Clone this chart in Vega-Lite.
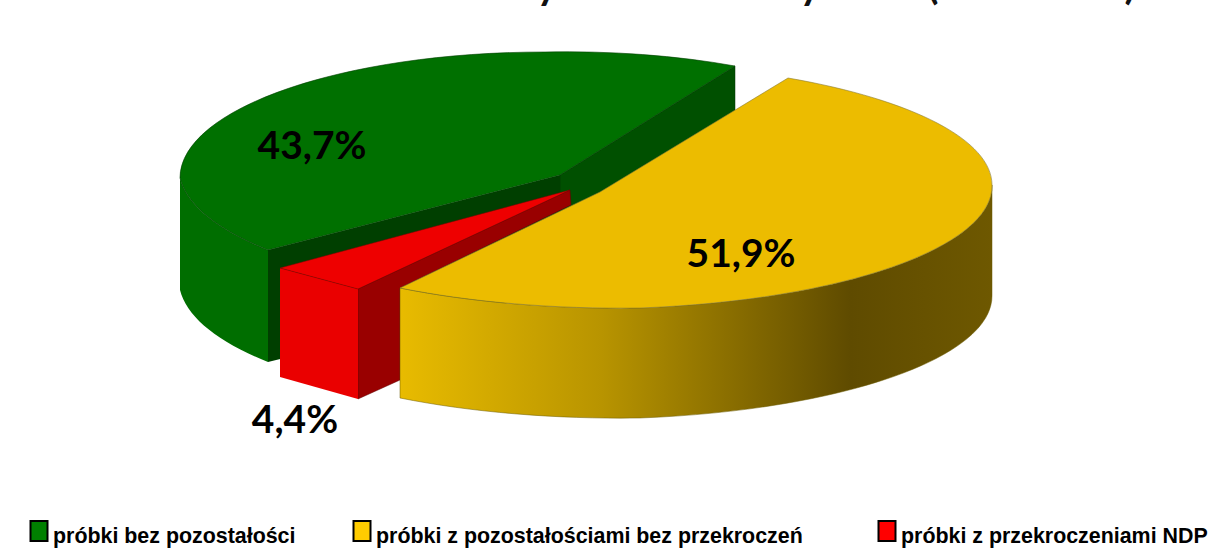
{"$schema":"https://vega.github.io/schema/vega-lite/v6.json","width":1209,"height":553,"padding":0,"autosize":{"type":"none"},"background":"white","config":{"view":{"stroke":null}},
"data":{"values":[{"category":"próbki bez pozostałości","value":43.7,"label":"43,7%"},{"category":"próbki z pozostałościami bez przekroczeń","value":51.9,"label":"51,9%"},{"category":"próbki z przekroczeniami NDP","value":4.4,"label":"4,4%"}]},
"layer":[
{"transform":[{"filter":"datum.value==43.7"}],"mark":{"type":"point","filled":true,"opacity":1,"size":4,"fill":"#005000","stroke":"#003000","strokeWidth":0.5,"shape":"M-44.5,-101.5 L130.5,-210.5 L130.5,-100.5 L-44.5,13.5 Z"},"encoding":{}},
{"transform":[{"filter":"datum.value==43.7"}],"mark":{"type":"point","filled":true,"opacity":1,"size":4,"fill":"#006e00","shape":"M-424.5,-98.5 L-424.5,13.5 A365 126 0 0 0 -336.5,85.5 L-336.5,-26.5 A365 126 0 0 1 -424.5,-98.5 Z"},"encoding":{}},
{"transform":[{"filter":"datum.value==43.7"}],"mark":{"type":"point","filled":true,"opacity":1,"size":4,"fill":"#003f00","shape":"M-336.5,-26.5 L-44.5,-101.5 L-44.5,13.5 L-336.5,85.5 Z"},"encoding":{}},
{"transform":[{"filter":"datum.value==43.7"}],"mark":{"type":"point","filled":true,"opacity":1,"size":4,"fill":"#007000","stroke":"#004000","strokeWidth":0.6,"shape":"M130.5,-210.5 A365 126 0 0 0 -59.5,-224.5 A365 126 0 0 0 -424.5,-98.5 A365 126 0 0 0 -336.5,-26.5 L-44.5,-101.5 Z"},"encoding":{}},
{"transform":[{"filter":"datum.value==4.4"}],"mark":{"type":"point","filled":true,"opacity":1,"size":4,"fill":"#990000","stroke":"#600000","strokeWidth":0.5,"shape":"M-246.5,12.5 L-34.5,-86.5 L-33.5,-71.5 L-204.5,11.5 L-204.5,103.5 L-246.5,122.5 Z"},"encoding":{}},
{"transform":[{"filter":"datum.value==4.4"}],"mark":{"type":"point","filled":true,"opacity":1,"size":4,"fill":"#ea0000","shape":"M-324.5,-8.5 L-246.5,12.5 L-246.5,122.5 L-324.5,100.5 Z"},"encoding":{}},
{"transform":[{"filter":"datum.value==4.4"}],"mark":{"type":"point","filled":true,"opacity":1,"size":4,"fill":"#ee0000","stroke":"#800000","strokeWidth":0.5,"shape":"M-34.5,-86.5 L-324.5,-8.5 L-246.5,12.5 Z"},"encoding":{}},
{"transform":[{"filter":"datum.value==51.9"}],"mark":{"type":"point","filled":true,"opacity":1,"size":4,"stroke":"#6b5a00","strokeWidth":0.5,"fill":{"gradient":"linear","x1":0,"y1":0,"x2":1,"y2":0,"stops":[{"offset":0,"color":"#e8bb00"},{"offset":0.34,"color":"#b89400"},{"offset":0.76,"color":"#5f4b00"},{"offset":1,"color":"#6e5800"}]},"shape":"M-204.5,11.5 A402 123 0 0 0 35.5,31.5 A402 123 0 0 0 387.5,-91.5 L387.5,18.5 A402 123 0 0 1 35.5,141.5 A402 123 0 0 1 -204.5,121.5 Z"},"encoding":{}},
{"transform":[{"filter":"datum.value==51.9"}],"mark":{"type":"point","filled":true,"opacity":1,"size":4,"fill":"#ecbc00","stroke":"#8a7a30","strokeWidth":0.6,"shape":"M-4.5,-84.5 L183.5,-198.5 A402 123 0 0 1 387.5,-91.5 A402 123 0 0 1 35.5,31.5 A402 123 0 0 1 -204.5,11.5 Z"},"encoding":{}},
{"mark":{"type":"point","filled":true,"opacity":1,"size":0},"encoding":{"color":{"field":"category","type":"nominal","sort":null,"scale":{"domain":["próbki bez pozostałości","próbki z pozostałościami bez przekroczeń","próbki z przekroczeniami NDP"],"range":["#008000","#ffcc00","#ff0000"]},"legend":{"title":null,"orient":"none","legendX":28,"legendY":526,"direction":"horizontal","columns":3,"gridAlign":"none","columnPadding":53,"labelLimit":600,"labelFont":"Liberation Sans","labelFontWeight":"bold","labelFontSize":21.4,"labelColor":"#000000","labelOffset":3,"labelExpr":"indexof(datum.label,'bez przekrocze')>0 ? datum.label+'\u00a0\u00a0\u00a0\u200b' : datum.label","symbolType":"M-0.85,-1.6 H0.85 V0.4 H-0.85 Z","symbolSize":400,"symbolStrokeColor":"#000000","symbolStrokeWidth":2,"symbolOpacity":1}}}},
{"transform":[{"filter":"datum.value==43.7"}],"mark":{"type":"text","font":"Lato","fontWeight":"bold","fontSize":39,"color":"#000000","baseline":"middle","dx":-292.5,"dy":-129.5},"encoding":{"text":{"field":"label"}}},
{"transform":[{"filter":"datum.value==51.9"}],"mark":{"type":"text","font":"Lato","fontWeight":"bold","fontSize":39,"color":"#000000","baseline":"middle","dx":136.5,"dy":-21.5},"encoding":{"text":{"field":"label"}}},
{"transform":[{"filter":"datum.value==4.4"}],"mark":{"type":"text","font":"Lato","fontWeight":"bold","fontSize":39,"color":"#000000","baseline":"middle","dx":-309.5,"dy":144.5},"encoding":{"text":{"field":"label"}}},
{"transform":[{"filter":"datum.value==4.4"}],"mark":{"type":"text","text":"y","font":"Lato","fontWeight":"bold","fontSize":40,"color":"#111111","baseline":"alphabetic","dx":-57.5,"dy":-278},"encoding":{}},
{"transform":[{"filter":"datum.value==4.4"}],"mark":{"type":"text","text":"y","font":"Lato","fontWeight":"bold","fontSize":40,"color":"#111111","baseline":"alphabetic","dx":205.5,"dy":-278},"encoding":{}},
{"transform":[{"filter":"datum.value==4.4"}],"mark":{"type":"text","text":"(","font":"Lato","fontWeight":"bold","fontSize":40,"color":"#111111","baseline":"alphabetic","dx":328.5,"dy":-278},"encoding":{}},
{"transform":[{"filter":"datum.value==4.4"}],"mark":{"type":"text","text":")","font":"Lato","fontWeight":"bold","fontSize":40,"color":"#111111","baseline":"alphabetic","dx":525.5,"dy":-278},"encoding":{}}
]}
